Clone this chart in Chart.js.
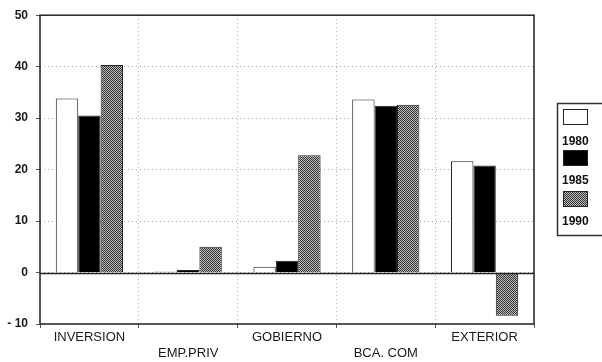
<!DOCTYPE html>
<html>
<head>
<meta charset="utf-8">
<script src="https://cdn.jsdelivr.net/npm/chart.js@4/dist/chart.umd.min.js"></script>
<style>
  html, body { margin: 0; padding: 0; background: #fff; }
  #wrap { width: 602px; height: 362px; position: relative; }
</style>
</head>
<body>
<div id="wrap"><canvas id="c" width="602" height="362"></canvas></div>
<script>
// Categories and series values
const categories = ['INVERSION', 'EMP.PRIV', 'GOBIERNO', 'BCA. COM', 'EXTERIOR'];
const seriesNames = ['1980', '1985', '1990'];
const values1980 = [33.8, 0.2, 1.1, 33.6, 21.6];
const values1985 = [30.5, 0.5, 2.3, 32.4, 20.8];
const values1990 = [40.3, 5.0, 22.8, 32.6, -8.4];
const yTicks = [-10, 0, 10, 20, 30, 40, 50];

// Stippled fill for the third series
function makeStipple() {
  const p = document.createElement('canvas');
  p.width = 2; p.height = 2;
  const g = p.getContext('2d');
  g.fillStyle = '#bdbdbd'; g.fillRect(0, 0, 2, 2);
  g.fillStyle = '#333333'; g.fillRect(0, 0, 1, 1); g.fillRect(1, 1, 1, 1);
  return g.createPattern(p, 'repeat');
}
const ctx = document.getElementById('c').getContext('2d');
const stipple = makeStipple();

const fills = ['#ffffff', '#000000', stipple];
const datasets = [values1980, values1985, values1990].map((d, i) => ({
  label: seriesNames[i],
  data: d,
  backgroundColor: fills[i],
  borderColor: '#222',
  borderWidth: 1,
  borderSkipped: 'bottom',
  categoryPercentage: 0.68,
  barPercentage: 1.0
}));

const FONT = '"Liberation Sans", Arial, sans-serif';

// Frame, zero line and the side legend
const framePlugin = {
  id: 'frame',
  afterDatasetsDraw(chart) {
    const { ctx, chartArea: a, scales } = chart;
    ctx.save();
    ctx.strokeStyle = '#222';
    ctx.lineWidth = 1.5;
    ctx.strokeRect(a.left, a.top, a.right - a.left, a.bottom - a.top);
    const y0 = Math.round(scales.y.getPixelForValue(0)) + 0.5;
    ctx.beginPath(); ctx.moveTo(a.left, y0); ctx.lineTo(a.right, y0); ctx.stroke();
    ctx.restore();
  },
  afterDraw(chart) {
    const { ctx } = chart;
    ctx.save();
    ctx.strokeStyle = '#333';
    ctx.lineWidth = 1.5;
    ctx.strokeRect(557.5, 103.5, 60, 132);
    const swY = [109, 150, 191];
    const txY = [142, 181, 222];
    chart.data.datasets.forEach((ds, i) => {
      ctx.fillStyle = ds.backgroundColor;
      ctx.fillRect(563, swY[i], 25, 16);
      ctx.lineWidth = 1;
      ctx.strokeStyle = '#222';
      ctx.strokeRect(563.5, swY[i] + 0.5, 24, 15);
      ctx.fillStyle = '#111';
      ctx.font = 'bold 12px ' + FONT;
      ctx.textBaseline = 'middle';
      ctx.textAlign = 'left';
      ctx.fillText(ds.label, 562, txY[i]);
    });
    ctx.restore();
  }
};

new Chart(ctx, {
  type: 'bar',
  data: { labels: categories, datasets },
  options: {
    responsive: false,
    animation: false,
    events: [],
    layout: { padding: { top: 13, right: 68, left: 0, bottom: 0 } },
    plugins: { legend: { display: false }, tooltip: { enabled: false } },
    scales: {
      x: {
        grid: {
          offset: true,
          color: '#aaa',
          lineWidth: 1,
          tickLength: 4,
          tickColor: '#555'
        },
        border: { display: false, dash: [1, 3] },
        ticks: {
          color: '#1a1a1a',
          font: { family: FONT, size: 13 },
          maxRotation: 0,
          autoSkip: false,
          padding: 2,
          callback: (v, i) => (i % 2 === 0 ? [categories[i]] : ['', categories[i]])
        },
        afterFit: s => { s.height = 38; }
      },
      y: {
        min: -10,
        max: 50,
        afterBuildTicks: s => { s.ticks = yTicks.map(v => ({ value: v })); },
        grid: {
          color: '#aaa',
          lineWidth: 1,
          tickLength: 4,
          tickColor: '#555'
        },
        border: { display: false, dash: [1, 3] },
        ticks: {
          color: '#1a1a1a',
          font: { family: FONT, size: 12, weight: 'bold' },
          padding: 8,
          callback: v => (v < 0 ? '- ' + Math.abs(v) : String(v))
        },
        afterFit: s => { s.width = 40; }
      }
    }
  },
  plugins: [framePlugin]
});
</script>
</body>
</html>
